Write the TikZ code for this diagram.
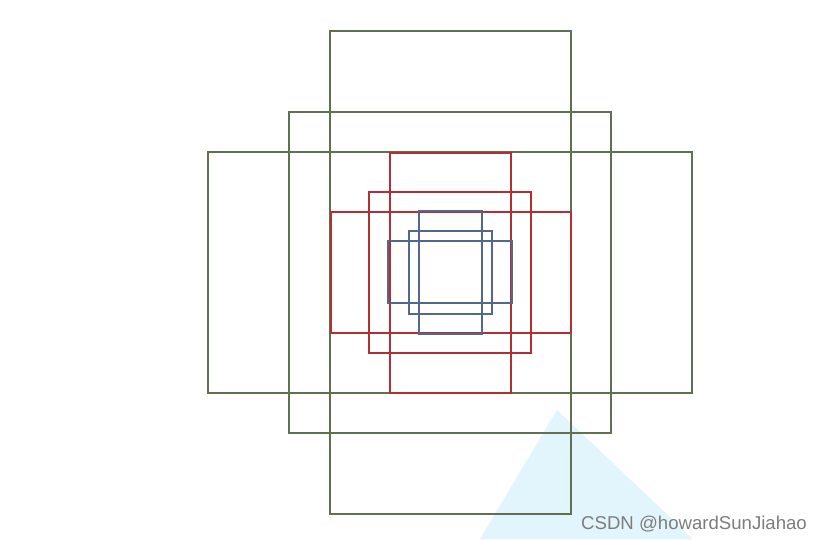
\documentclass[tikz,border=0pt]{standalone}
\usepackage{fontspec}
\setmainfont{Liberation Sans}
\definecolor{boxgreen}{RGB}{98,112,82}
\definecolor{boxred}{RGB}{178,48,52}
\definecolor{boxblue}{RGB}{84,104,140}
\definecolor{tri}{RGB}{226,244,252}
\definecolor{mark}{RGB}{125,125,125}
\tikzset{
  gbox/.style={draw=boxgreen, line width=1.6pt},
  rbox/.style={draw=boxred, line width=1.2pt},
  bbox/.style={draw=boxblue, line width=1.4pt},
}
\begin{document}
\begin{tikzpicture}[x=1pt,y=-1pt]
\useasboundingbox (0,0) rectangle (821,539);
\fill[white] (0,0) rectangle (821,539);
% light triangle
\fill[tri] (557,410) -- (693,539) -- (480,539) -- cycle;
% green boxes
\draw[gbox] (330,31) rectangle (571,514);
\draw[gbox] (289,112) rectangle (611,433);
\draw[gbox] (208,152) rectangle (692,393);
% red boxes
\draw[rbox] (390,153) rectangle (511,393);
\draw[rbox] (369,192) rectangle (531,353);
\draw[rbox] (331,212) rectangle (571,333);
% blue boxes
\draw[bbox] (419,211) rectangle (482,334);
\draw[bbox] (409,231) rectangle (492,314);
\draw[bbox] (388,241) rectangle (512,303);
% watermark
\node[anchor=base west, inner sep=0pt, text=mark, font=\fontsize{18.6}{20}\selectfont] (wm) at (581,529) {CSDN @howardSunJiahao};
\end{tikzpicture}
\end{document}
